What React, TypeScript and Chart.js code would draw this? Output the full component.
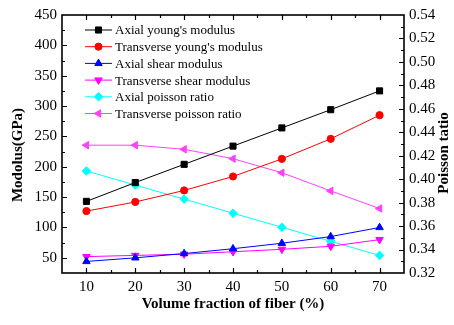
import React, { useEffect, useRef } from "react";
import { Chart, registerables } from "chart.js";
import { drawPoint } from "chart.js/helpers";

Chart.register(...registerables);

const fractions = [10, 20, 30, 40, 50, 60, 70];
const axialYoung = [143, 174, 204, 234, 264, 294, 325];
const transYoung = [127, 142, 161, 184, 213, 246, 285];
const axialShear = [44, 50, 57, 65, 74, 85, 100];
const transShear = [52, 54, 56, 60, 64, 69, 80];
const axialPoisson = [0.407, 0.395, 0.383, 0.371, 0.359, 0.347, 0.335];
const transPoisson = [0.429, 0.429, 0.4255, 0.4175, 0.4055, 0.39, 0.375];

const fractionTicks = [10, 20, 30, 40, 50, 60, 70];
const modulusTicks = [50, 100, 150, 200, 250, 300, 350, 400, 450];
const poissonTicks = [0.32, 0.34, 0.36, 0.38, 0.4, 0.42, 0.44, 0.46, 0.48, 0.5, 0.52, 0.54];

const seriesNames = [
  "Axial young's modulus",
  "Transverse young's modulus",
  "Axial shear modulus",
  "Transverse shear modulus",
  "Axial poisson ratio",
  "Transverse poisson ratio",
];
const seriesValues = [axialYoung, transYoung, axialShear, transShear, axialPoisson, transPoisson];
const seriesColors = ["#000000", "#ff0000", "#0000ff", "#ff00ff", "#00ffff", "#ff40ff"];
const seriesAxes = ["y", "y", "y", "y", "y1", "y1"];
const seriesStyles = ["rect", "circle", "triangle", "triangle", "rectRot", "triangle"];
const seriesRotations = [0, 0, 0, 180, 0, 270];
const seriesRadius = [4.3, 3.6, 4.3, 4.3, 4.3, 4.3];

const xTitle = "Volume fraction of fiber (%)";
const yTitle = "Modolus(GPa)";
const y1Title = "Poisson tatio";

const FONT = "'Liberation Serif', 'Times New Roman', serif";

const framePlugin = {
  id: "framePlugin",
  afterDraw(chart: any) {
    const ctx = chart.ctx;
    const { left, right, top, bottom } = chart.chartArea;
    const xs = chart.scales.x;
    const ys = chart.scales.y;
    const y1s = chart.scales.y1;
    ctx.save();
    ctx.strokeStyle = "#000";
    ctx.lineWidth = 1.6;
    ctx.strokeRect(left, top, right - left, bottom - top);
    ctx.lineWidth = 1.2;
    ctx.beginPath();
    // x ticks (bottom and top), inward
    for (let v = xs.min + 5; v < xs.max; v += 5) {
      const px = Math.round(xs.getPixelForValue(v)) + 0.5;
      const len = v % 10 === 0 ? 5 : 3;
      ctx.moveTo(px, bottom);
      ctx.lineTo(px, bottom - len);
      ctx.moveTo(px, top);
      ctx.lineTo(px, top + len);
    }
    // left ticks
    for (let v = 50; v < ys.max; v += 25) {
      const py = Math.round(ys.getPixelForValue(v)) + 0.5;
      const len = v % 50 === 0 ? 5 : 3;
      ctx.moveTo(left, py);
      ctx.lineTo(left + len, py);
    }
    // right ticks
    for (let i = 1; i < 22; i++) {
      const v = 0.32 + i * 0.01;
      const py = Math.round(y1s.getPixelForValue(v)) + 0.5;
      const len = i % 2 === 0 ? 5 : 3;
      ctx.moveTo(right, py);
      ctx.lineTo(right - len, py);
    }
    ctx.stroke();

    // axis titles
    ctx.fillStyle = "#000";
    ctx.font = `bold 15px ${FONT}`;
    ctx.textAlign = "center";
    ctx.textBaseline = "middle";
    ctx.fillText(xTitle, (left + right) / 2, 304);
    ctx.save();
    ctx.translate(18, 155);
    ctx.rotate(-Math.PI / 2);
    ctx.fillText(yTitle, 0, 0);
    ctx.restore();
    ctx.save();
    ctx.translate(444, 153);
    ctx.rotate(-Math.PI / 2);
    ctx.fillText(y1Title, 0, 0);
    ctx.restore();

    // legend
    ctx.font = `13px ${FONT}`;
    ctx.textAlign = "left";
    ctx.textBaseline = "middle";
    const lx0 = 85;
    const lx1 = 112;
    const ly0 = 30;
    const step = 16.7;
    chart.data.datasets.forEach((ds: any, i: number) => {
      const yy = ly0 + i * step;
      ctx.strokeStyle = ds.borderColor;
      ctx.fillStyle = ds.backgroundColor;
      ctx.lineWidth = 1;
      ctx.beginPath();
      ctx.moveTo(lx0, yy);
      ctx.lineTo(lx1, yy);
      ctx.stroke();
      drawPoint(
        ctx,
        { pointStyle: ds.pointStyle, rotation: ds.pointRotation, radius: ds.pointRadius, borderWidth: 1 },
        (lx0 + lx1) / 2,
        yy
      );
      ctx.fillStyle = "#000";
      ctx.fillText(ds.label, 115, yy + 1);
    });
    ctx.restore();
  },
};

export default function App() {
  const ref = useRef<HTMLCanvasElement | null>(null);
  useEffect(() => {
    document.body.style.margin = "0";
    if (!ref.current) return;
    const datasets = seriesNames.map((name, i) => ({
      label: name,
      data: fractions.map((f, j) => ({ x: f, y: seriesValues[i][j] })),
      yAxisID: seriesAxes[i],
      borderColor: seriesColors[i],
      backgroundColor: seriesColors[i],
      borderWidth: 1,
      pointStyle: seriesStyles[i],
      pointRotation: seriesRotations[i],
      pointRadius: seriesRadius[i],
      pointBorderWidth: 1,
      tension: 0,
    }));
    const chart = new Chart(ref.current, {
      type: "line",
      data: { datasets },
      options: {
        animation: false,
        responsive: true,
        maintainAspectRatio: false,
        layout: { padding: { top: 15, left: 0, right: 0, bottom: 0 } },
        plugins: { legend: { display: false }, tooltip: { enabled: false } },
        scales: {
          x: {
            type: "linear",
            min: 5,
            max: 75,
            grid: { display: false, drawTicks: false, tickLength: 0 },
            border: { display: false },
            afterBuildTicks: (s: any) => {
              s.ticks = fractionTicks.map((v) => ({ value: v }));
            },
            afterFit: (s: any) => {
              s.height = 52;
            },
            ticks: { color: "#000", padding: 5, font: { family: FONT, size: 15 } },
          },
          y: {
            type: "linear",
            position: "left",
            min: 25,
            max: 450,
            grid: { display: false, drawTicks: false, tickLength: 0 },
            border: { display: false },
            afterBuildTicks: (s: any) => {
              s.ticks = modulusTicks.map((v) => ({ value: v }));
            },
            afterFit: (s: any) => {
              s.width = 62;
            },
            ticks: { color: "#000", padding: 5, font: { family: FONT, size: 15 } },
          },
          y1: {
            type: "linear",
            position: "right",
            min: 0.32,
            max: 0.54,
            grid: { display: false, drawTicks: false, tickLength: 0 },
            border: { display: false },
            afterBuildTicks: (s: any) => {
              s.ticks = poissonTicks.map((v) => ({ value: v }));
            },
            afterFit: (s: any) => {
              s.width = 50;
            },
            ticks: {
              color: "#000",
              padding: 5,
              font: { family: FONT, size: 15 },
              callback: (v: any) => Number(v).toFixed(2),
            },
          },
        },
      },
      plugins: [framePlugin],
    } as any);
    return () => chart.destroy();
  }, []);
  return (
    <div style={{ position: "fixed", left: 0, top: 0, width: 454, height: 325, background: "#fff" }}>
      <canvas ref={ref} />
    </div>
  );
}
